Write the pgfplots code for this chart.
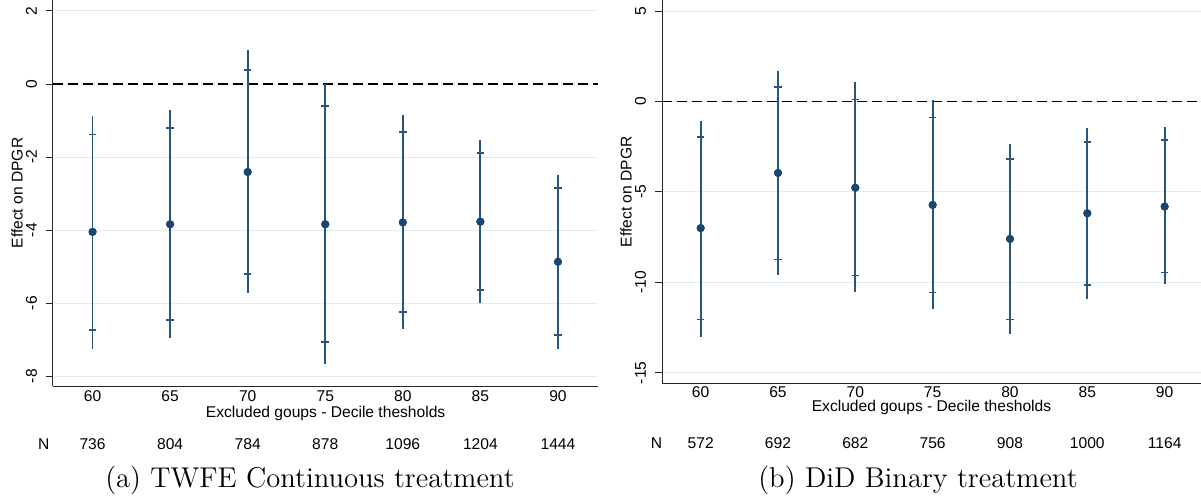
\documentclass[border=0pt]{standalone}
\usepackage{pgfplots}
\usepackage{pgfplotstable}
\pgfplotsset{compat=1.18}
\usepackage{fontspec}
\newfontfamily\arial{Liberation Sans}
\definecolor{navy}{RGB}{26,71,111}
\definecolor{navyl}{RGB}{40,85,128}
\definecolor{gridc}{RGB}{226,236,238}
\newcommand\cf{\arial\fontsize{7.8}{9}\selectfont}

% x  b  l95  l90  h90  h95
\pgfplotstableread{
x b l95 l90 h90 h95
0 -4.05 -7.25 -6.73 -1.38 -0.88
1 -3.84 -6.96 -6.46 -1.20 -0.70
2 -2.41 -5.72 -5.20 0.38 0.93
3 -3.84 -7.67 -7.06 -0.61 0.01
4 -3.79 -6.70 -6.24 -1.32 -0.86
5 -3.77 -5.99 -5.64 -1.89 -1.53
6 -4.87 -7.25 -6.88 -2.85 -2.48
}\tabA
\pgfplotstableread{
x b l95 l90 h90 h95
0 -7.00 -13.00 -12.06 -1.97 -1.07
1 -3.95 -9.62 -8.74 0.79 1.71
2 -4.77 -10.54 -9.62 0.11 1.05
3 -5.72 -11.49 -10.57 -0.88 0.07
4 -7.60 -12.87 -12.06 -3.17 -2.34
5 -6.18 -10.90 -10.13 -2.23 -1.47
6 -5.81 -10.11 -9.45 -2.13 -1.43
}\tabB

\pgfplotsset{stata/.style={
  scale only axis, clip=false,
  axis x line=bottom, axis y line=left,
  axis line style={-, line width=0.5pt, black!85},
  xtick={0,...,6}, xticklabels={60,65,70,75,80,85,90},
  tick align=outside, major tick length=3.5pt,
  x tick style={draw=none},
  y tick style={line width=0.5pt, black!85},
  ymajorgrids, grid style={line width=0.5pt, gridc},
  tick label style={font=\cf},
  yticklabel style={rotate=90, anchor=south, yshift=1pt},
  label style={font=\cf},
  xlabel={Excluded goups - Decile thesholds},
  ylabel={Effect on DPGR},
  ylabel style={at={(rel axis cs:0,0.5)}, anchor=center, yshift=18pt},
  ci95/.style={only marks, mark=*, mark size=1.8pt, navy,
    error bars/.cd, y dir=both, y explicit, error mark=none,
    error bar style={line width=0.9pt, navyl}},
  ci90/.style={only marks, mark=*, mark size=1.8pt, navy,
    error bars/.cd, y dir=both, y explicit, error mark=|,
    error bar style={line width=0.9pt, navyl},
    error mark options={line width=0.8pt, mark size=1.9pt, navyl}},
}}

\begin{document}
\begin{tikzpicture}[x=1pt,y=1pt]
\useasboundingbox (0,0) rectangle (600.5,250);

% ---------- panel (a)
\begin{axis}[stata,
  at={(26.5pt,57pt)}, anchor=south west,
  width=272.65pt, height=193pt,
  xmin=-0.51, xmax=6.52, ymin=-8.27, ymax=2.30,
  ytick={-8,-6,-4,-2,0,2}, yticklabels={-8,-6,-4,-2,0,2},
  xlabel style={at={(rel axis cs:0.5,0)}, anchor=center, yshift=-13.5pt},
  xticklabel style={anchor=center, yshift=-1.7pt},
]
\addplot[black, line width=0.8pt, dash pattern=on 5pt off 2.5pt] coordinates {(-0.51,0) (6.52,0)};
\addplot[ci95]
  table[x=x, y=b, y error plus expr=\thisrow{h95}-\thisrow{b}, y error minus expr=\thisrow{b}-\thisrow{l95}] {\tabA};
\addplot[ci90]
  table[x=x, y=b, y error plus expr=\thisrow{h90}-\thisrow{b}, y error minus expr=\thisrow{b}-\thisrow{l90}] {\tabA};
\node[font=\cf, anchor=center] at (axis cs:-0.63,-9.86) {N};
\node[font=\cf, anchor=center] at (axis cs:0,-9.86) {736};
\node[font=\cf, anchor=center] at (axis cs:1,-9.86) {804};
\node[font=\cf, anchor=center] at (axis cs:2,-9.86) {784};
\node[font=\cf, anchor=center] at (axis cs:3,-9.86) {878};
\node[font=\cf, anchor=center] at (axis cs:4,-9.86) {1096};
\node[font=\cf, anchor=center] at (axis cs:5,-9.86) {1204};
\node[font=\cf, anchor=center] at (axis cs:6,-9.86) {1444};
\end{axis}
\node[anchor=base, font=\fontsize{14.3}{17}\selectfont] at (155,6.5) {(a) TWFE Continuous treatment};

% ---------- panel (b)
\begin{axis}[stata,
  at={(331pt,58.35pt)}, anchor=south west,
  width=269.5pt, height=191.65pt,
  xmin=-0.5, xmax=6.47, ymin=-15.58, ymax=5.61,
  ytick={-15,-10,-5,0,5}, yticklabels={-15,-10,-5,0,5},
  xlabel style={at={(rel axis cs:0.5,0)}, anchor=center, yshift=-11.85pt},
  xticklabel style={anchor=center, yshift=-1.05pt},
]
\addplot[black, line width=0.8pt, dash pattern=on 5pt off 2.5pt] coordinates {(-0.5,0) (6.47,0)};
\addplot[ci95]
  table[x=x, y=b, y error plus expr=\thisrow{h95}-\thisrow{b}, y error minus expr=\thisrow{b}-\thisrow{l95}] {\tabB};
\addplot[ci90]
  table[x=x, y=b, y error plus expr=\thisrow{h90}-\thisrow{b}, y error minus expr=\thisrow{b}-\thisrow{l90}] {\tabB};
\node[font=\cf, anchor=center] at (axis cs:-0.57,-18.86) {N};
\node[font=\cf, anchor=center] at (axis cs:0,-18.86) {572};
\node[font=\cf, anchor=center] at (axis cs:1,-18.86) {692};
\node[font=\cf, anchor=center] at (axis cs:2,-18.86) {682};
\node[font=\cf, anchor=center] at (axis cs:3,-18.86) {756};
\node[font=\cf, anchor=center] at (axis cs:4,-18.86) {908};
\node[font=\cf, anchor=center] at (axis cs:5,-18.86) {1000};
\node[font=\cf, anchor=center] at (axis cs:6,-18.86) {1164};
\end{axis}
\node[anchor=base, font=\fontsize{14.3}{17}\selectfont] at (459,6.5) {(b) DiD Binary treatment};
\end{tikzpicture}
\end{document}
